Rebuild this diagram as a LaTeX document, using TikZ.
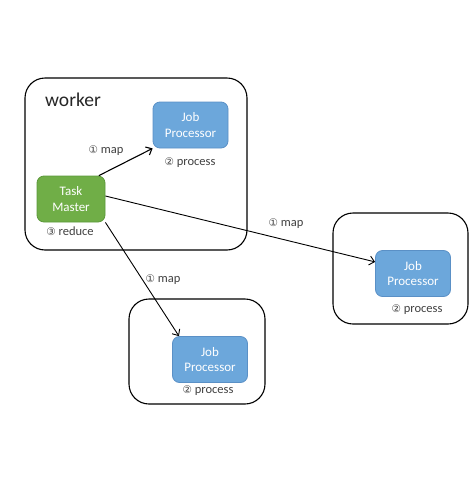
\documentclass[tikz,border=0pt]{standalone}
\usepackage{fontspec}
\setmainfont{Carlito}
\newfontfamily\circfont{DejaVu Sans}
\usetikzlibrary{arrows.meta}
\definecolor{jobblue}{HTML}{6CA7DB}
\definecolor{jobedge}{HTML}{5A90C6}
\definecolor{taskgreen}{HTML}{70AE47}
\definecolor{taskedge}{HTML}{5C983A}
\definecolor{labelgray}{HTML}{404040}
\newcommand{\circnum}[1]{{\circfont\fontsize{10.5}{11}\selectfont #1}}

\begin{document}
\begin{tikzpicture}[x=1pt, y=-1pt,
		host/.style={draw, line width=1.1pt, rounded corners=20pt, inner sep=0pt},
		job/.style={fill=jobblue, draw=jobedge, line width=0.8pt, rounded corners=7pt, text=white, align=center,
			minimum width=75pt, minimum height=46pt, inner sep=0pt, font=\fontsize{13}{15.5}\selectfont},
		master/.style={job, fill=taskgreen, draw=taskedge, minimum width=68pt},
		step label/.style={text=labelgray, inner sep=0pt, font=\fontsize{12.5}{14}\selectfont},
		map arrow/.style={-{Straight Barb[length=5pt,width=9pt]}, line width=0.9pt}]
		\useasboundingbox (0,0) rectangle (473,477);
		% worker with task master
		\node[host, minimum width=222pt, minimum height=172pt] (worker) at (136,164) {};
		\node[text=black!85, inner sep=0pt, font=\fontsize{19.5}{20}\selectfont] (workername) at (73,100) {worker};
		\node[job] (jp1) at (190.5,125) {Job\\Processor};
		\node[step label] (p1) at (190,163) {\circnum{②} process};
		\node[master] (tm) at (71,199) {Task\\Master};
		\node[step label] (r1) at (70,231) {\circnum{③} reduce};
		% other workers
		\node[host, minimum width=135pt, minimum height=111pt] (worker2) at (400.5,268.5) {};
		\node[job] (jp2) at (413,273.5) {Job\\Processor};
		\node[step label] (p2) at (417,310) {\circnum{②} process};
		\node[host, minimum width=136pt, minimum height=105pt] (worker3) at (197,351.5) {};
		\node[job] (jp3) at (210,359.5) {Job\\Processor};
		\node[step label] (p3) at (208,391) {\circnum{②} process};
		% map arrows
		\draw[map arrow, line width=1.1pt] (tm.40) -- (jp1.south west);
		\draw[map arrow] (tm.5) -- (jp2.163);
		\draw[map arrow] (tm.south east) -- (jp3.143);
		\node[step label] (m1) at (106,151) {\circnum{①} map};
		\node[step label] (m2) at (286,224) {\circnum{①} map};
		\node[step label] (m3) at (163,280) {\circnum{①} map};
\end{tikzpicture}
\end{document}
